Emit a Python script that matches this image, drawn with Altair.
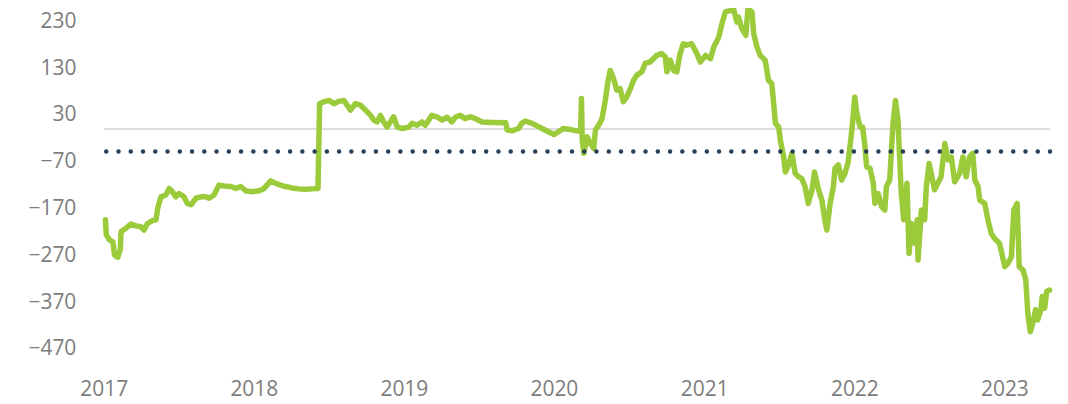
import altair as alt
import pandas as pd

dates = [
    "2017-01-05", "2017-01-07", "2017-01-15", "2017-01-23", "2017-01-27", "2017-02-04", "2017-02-10",
    "2017-02-12", "2017-02-24", "2017-03-08", "2017-03-20", "2017-04-01", "2017-04-09", "2017-04-17",
    "2017-04-29", "2017-05-08", "2017-05-12", "2017-05-20", "2017-06-01", "2017-06-09", "2017-06-17",
    "2017-06-25", "2017-07-03", "2017-07-15", "2017-07-23", "2017-08-01", "2017-08-13", "2017-08-25",
    "2017-09-06", "2017-09-14", "2017-09-26", "2017-10-08", "2017-10-20", "2017-11-06", "2017-11-18",
    "2017-11-30", "2017-12-12", "2017-12-28", "2018-01-14", "2018-01-26", "2018-02-11", "2018-02-23",
    "2018-03-07", "2018-03-19", "2018-04-04", "2018-04-21", "2018-05-07", "2018-05-23", "2018-06-06",
    "2018-06-10", "2018-06-20", "2018-07-03", "2018-07-15", "2018-07-27", "2018-08-08", "2018-08-16",
    "2018-08-24", "2018-09-05", "2018-09-17", "2018-09-30", "2018-10-12", "2018-10-20", "2018-10-28",
    "2018-11-05", "2018-11-13", "2018-11-21", "2018-11-29", "2018-12-07", "2018-12-16", "2018-12-27",
    "2019-01-13", "2019-01-21", "2019-02-02", "2019-02-14", "2019-02-22", "2019-03-10", "2019-03-22",
    "2019-04-04", "2019-04-16", "2019-04-28", "2019-05-06", "2019-05-18", "2019-05-30", "2019-06-12",
    "2019-06-24", "2019-07-10", "2019-08-03", "2019-09-06", "2019-09-09", "2019-09-21", "2019-10-07",
    "2019-10-15", "2019-10-23", "2019-11-09", "2019-12-03", "2020-01-01", "2020-01-12", "2020-01-24",
    "2020-02-09", "2020-02-25", "2020-03-06", "2020-03-08", "2020-03-10", "2020-03-14", "2020-03-22",
    "2020-03-30", "2020-04-07", "2020-04-11", "2020-04-19", "2020-04-27", "2020-05-05", "2020-05-12",
    "2020-05-17", "2020-05-25", "2020-06-02", "2020-06-10", "2020-06-18", "2020-06-26", "2020-07-05",
    "2020-07-13", "2020-07-21", "2020-08-02", "2020-08-10", "2020-08-22", "2020-09-07", "2020-09-19",
    "2020-09-28", "2020-10-02", "2020-10-10", "2020-10-18", "2020-10-26", "2020-11-03", "2020-11-11",
    "2020-11-19", "2020-12-01", "2020-12-14", "2020-12-22", "2021-01-04", "2021-01-16", "2021-01-24",
    "2021-02-05", "2021-02-13", "2021-02-21", "2021-03-05", "2021-03-13", "2021-03-21", "2021-03-25",
    "2021-04-02", "2021-04-12", "2021-04-17", "2021-04-27", "2021-05-01", "2021-05-09", "2021-05-17",
    "2021-05-29", "2021-06-06", "2021-06-14", "2021-06-18", "2021-06-23", "2021-07-01", "2021-07-05",
    "2021-07-13", "2021-07-17", "2021-07-25", "2021-08-02", "2021-08-10", "2021-08-18", "2021-08-26",
    "2021-09-03", "2021-09-11", "2021-09-20", "2021-09-26", "2021-10-06", "2021-10-14", "2021-10-21",
    "2021-10-26", "2021-11-03", "2021-11-11", "2021-11-15", "2021-11-23", "2021-12-01", "2021-12-09",
    "2021-12-17", "2021-12-26", "2022-01-02", "2022-01-07", "2022-01-15", "2022-01-21", "2022-01-26",
    "2022-01-31", "2022-02-08", "2022-02-16", "2022-02-20", "2022-02-28", "2022-03-08", "2022-03-16",
    "2022-03-20", "2022-03-28", "2022-04-05", "2022-04-11", "2022-04-17", "2022-04-25", "2022-05-01",
    "2022-05-09", "2022-05-14", "2022-05-20", "2022-05-28", "2022-06-03", "2022-06-05", "2022-06-13",
    "2022-06-21", "2022-06-25", "2022-07-02", "2022-07-07", "2022-07-15", "2022-07-23", "2022-07-31",
    "2022-08-09", "2022-08-17", "2022-08-25", "2022-09-02", "2022-09-14", "2022-09-22", "2022-09-30",
    "2022-10-08", "2022-10-16", "2022-10-21", "2022-10-29", "2022-11-02", "2022-11-14", "2022-11-22",
    "2022-11-30", "2022-12-08", "2022-12-20", "2023-01-02", "2023-01-10", "2023-01-18", "2023-01-24",
    "2023-02-01", "2023-02-06", "2023-02-15", "2023-02-22", "2023-02-27", "2023-03-05", "2023-03-11",
    "2023-03-18", "2023-03-23", "2023-03-31", "2023-04-03", "2023-04-09", "2023-04-14", "2023-04-21",
]

values = [
    -194, -226, -237, -241, -269, -274, -258,
    -219, -212, -203, -207, -209, -216, -202,
    -196, -194, -170, -145, -141, -127, -134,
    -145, -138, -145, -159, -162, -148, -145,
    -145, -148, -141, -120, -122, -123, -127,
    -123, -132, -134, -132, -127, -111, -116,
    -120, -123, -126, -128, -129, -128, -127,
    54, 58, 61, 54, 59, 61, 51,
    40, 54, 51, 40, 29, 19, 15,
    29, 15, 4, 15, 26, 4, 1,
    4, 12, 8, 15, 8, 29, 26,
    19, 25, 15, 25, 29, 22, 26,
    22, 15, 14, 13, -2, -4, 1,
    12, 17, 12, 1, -12, -6, 1,
    -1, -4, -5, 65, -24, -52, -17,
    -31, -42, -2, 8, 22, 61, 104,
    125, 108, 83, 86, 58, 68, 86,
    104, 115, 122, 140, 143, 157, 161,
    154, 122, 147, 125, 122, 161, 182,
    179, 182, 161, 143, 157, 150, 175,
    196, 225, 250, 253, 257, 228, 239,
    215, 200, 257, 250, 204, 175, 157,
    147, 104, 97, 61, 12, 4, -24,
    -60, -92, -77, -52, -95, -102, -106,
    -123, -159, -130, -92, -130, -152, -194,
    -216, -159, -123, -84, -77, -109, -95,
    -70, -2, 68, 33, 4, 4, -31,
    -81, -84, -116, -159, -138, -166, -173,
    -123, -109, 12, 61, 19, -135, -194,
    -116, -266, -202, -244, -194, -280, -173,
    -194, -123, -74, -95, -130, -116, -102,
    -31, -66, -60, -113, -95, -60, -102,
    -60, -52, -109, -123, -152, -159, -194,
    -223, -234, -244, -294, -287, -273, -173,
    -159, -294, -301, -322, -394, -433, -415,
    -386, -408, -386, -358, -383, -347, -344,
]

y_ticks = [230, 130, 30, -70, -170, -270, -370, -470]
x_tick_years = [2017, 2018, 2019, 2020, 2021, 2022, 2023]
zero_value = [0]
average_value = [-48]

FONT = "Open Sans"
LABEL_COLOR = "#7d7d7d"
GREEN = "#9BCB3B"
NAVY = "#27405A"

df = pd.DataFrame({"date": pd.to_datetime(dates), "value": values})
zero_df = pd.DataFrame({"value": zero_value})
avg_df = pd.DataFrame({"value": average_value})

y_scale = alt.Scale(domain=[-495, 249], nice=False, zero=False)
x_scale = alt.Scale(
    domain=[alt.DateTime(year=2017, month=1, date=1), alt.DateTime(year=2023, month=4, date=22)],
    nice=False,
)

y_axis = alt.Axis(
    values=y_ticks,
    grid=False,
    domain=False,
    ticks=False,
    tickSize=0,
    labelPadding=28,
    labelFlush=False,
    labelFont=FONT,
    labelFontSize=21,
    labelColor=LABEL_COLOR,
    title=None,
)

x_axis = alt.Axis(
    values=[alt.DateTime(year=y, month=1, date=1) for y in x_tick_years],
    format="%Y",
    grid=False,
    domain=False,
    ticks=False,
    tickSize=0,
    labelPadding=18,
    labelFlush=False,
    labelFont=FONT,
    labelFontSize=21,
    labelColor=LABEL_COLOR,
    title=None,
)

line = alt.Chart(df).mark_line(
    color=GREEN, strokeWidth=5.5, strokeJoin="round", strokeCap="round"
).encode(
    x=alt.X("date:T", scale=x_scale, axis=x_axis),
    y=alt.Y("value:Q", scale=y_scale, axis=y_axis),
)

zero_rule = alt.Chart(zero_df).mark_rule(color="#dedede", strokeWidth=2).encode(
    y=alt.Y("value:Q", scale=y_scale, axis=y_axis)
)

avg_rule = alt.Chart(avg_df).mark_rule(
    color=NAVY, strokeWidth=4.5, strokeDash=[0.01, 12.27], strokeCap="round"
).encode(y=alt.Y("value:Q", scale=y_scale, axis=y_axis))

chart = alt.layer(zero_rule, line, avg_rule).properties(
    width=948,
    height=349,
    padding={"left": 96, "top": 4, "right": 10, "bottom": 40},
    autosize=alt.AutoSizeParams(type="none"),
).configure_view(stroke=None)

chart.save("out.html", embed_options={"renderer": "svg", "actions": False})
